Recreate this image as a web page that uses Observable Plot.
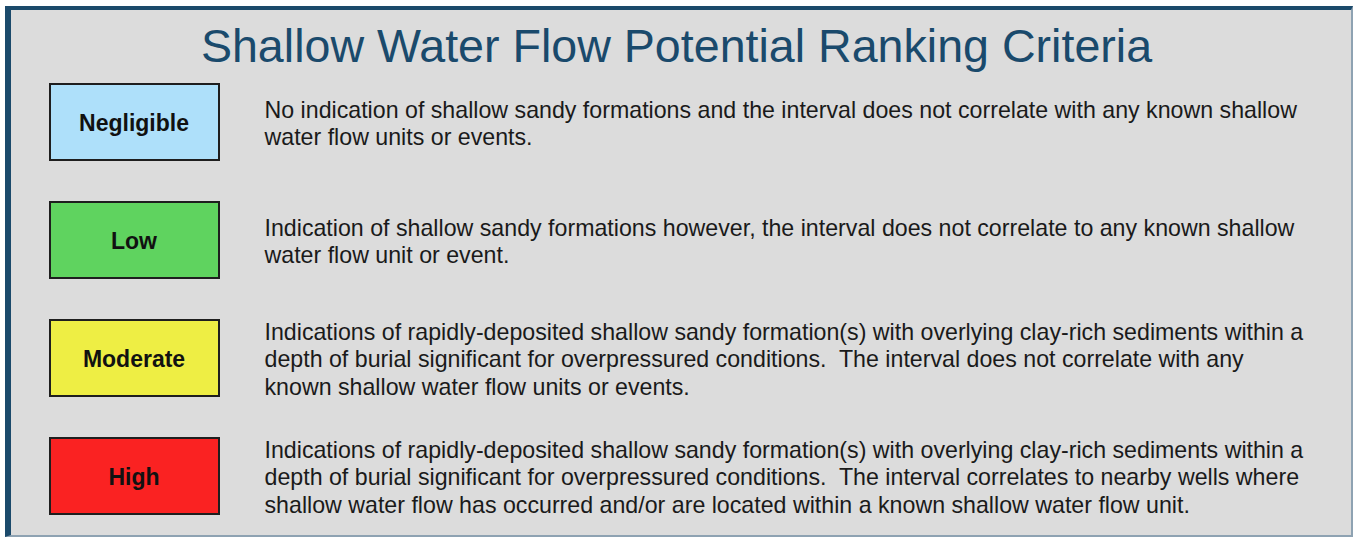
<!DOCTYPE html>
<html>
<head>
<meta charset="utf-8">
<script src="https://cdn.jsdelivr.net/npm/d3@7"></script>
<script src="https://cdn.jsdelivr.net/npm/@observablehq/plot@0.6"></script>
<style>
  html, body { margin: 0; padding: 0; background: #ffffff; width: 1354px; height: 541px; overflow: hidden; }
  #panel {
    position: absolute; left: 5px; top: 6px; width: 1348px; height: 531px; box-sizing: border-box;
    background: #dcdcdc;
    border-top: 4px solid #1b4a6b; border-left: 6px solid #1b4a6b;
    border-right: 2px solid #8ea2b2; border-bottom: 2px solid #8ea2b2;
  }
  #chart { position: absolute; left: 0; top: 0; }
  #chart svg text { white-space: pre; }
</style>
</head>
<body>
<div id="panel"></div>
<div id="chart"></div>
<script>
const title = "Shallow Water Flow Potential Ranking Criteria";
const levels = ["Negligible", "Low", "Moderate", "High"];
const descriptions = [
  "No indication of shallow sandy formations and the interval does not correlate with any known shallow\nwater flow units or events.",
  "Indication of shallow sandy formations however, the interval does not correlate to any known shallow\nwater flow unit or event.",
  "Indications of rapidly-deposited shallow sandy formation(s) with overlying clay-rich sediments within a\ndepth of burial significant for overpressured conditions.  The interval does not correlate with any\nknown shallow water flow units or events.",
  "Indications of rapidly-deposited shallow sandy formation(s) with overlying clay-rich sediments within a\ndepth of burial significant for overpressured conditions.  The interval correlates to nearby wells where\nshallow water flow has occurred and/or are located within a known shallow water flow unit."
];
const levelColors = ["#aee0fa", "#5fd35f", "#eeee44", "#fa2222"];

const rows = levels.map((level, i) => ({level, description: descriptions[i], row: i}));

// layout (pixel space)
const W = 1354, H = 541;
const rowTop = i => 84 + i * 118;
const boxH = 76;
const boxX1 = 50, boxX2 = 219, textX = 264;

const chart = Plot.plot({
  width: W, height: H,
  margin: 0,
  x: {domain: [0, W], range: [0, W], axis: null},
  y: {domain: [0, H], range: [0, H], axis: null},
  color: {type: "ordinal", domain: levels, range: levelColors},
  style: {background: "transparent", fontFamily: "'Liberation Sans', Arial, sans-serif"},
  marks: [
    Plot.text([title], {
      x: () => W / 2 - 1, y: () => 47, text: d => d,
      fontSize: 46.6, fill: "#1a4a6c", textAnchor: "middle", lineAnchor: "middle"
    }),
    Plot.rect(rows, {
      x1: () => boxX1, x2: () => boxX2,
      y1: d => rowTop(d.row), y2: d => rowTop(d.row) + boxH,
      fill: "level", stroke: "#1e1e1e", strokeWidth: 2
    }),
    Plot.text(rows, {
      x: () => (boxX1 + boxX2) / 2 - 1, y: d => rowTop(d.row) + boxH / 2 + 1,
      text: "level", fontSize: 23, fontWeight: "bold", fill: "#111111",
      textAnchor: "middle", lineAnchor: "middle"
    }),
    Plot.text(rows, {
      x: () => textX, y: d => rowTop(d.row) + boxH / 2,
      text: "description", fontSize: 23.2, fill: "#1a1a1a",
      textAnchor: "start", lineAnchor: "middle", lineHeight: 27.3 / 23.2
    })
  ]
});
document.getElementById("chart").appendChild(chart);
</script>
</body>
</html>
